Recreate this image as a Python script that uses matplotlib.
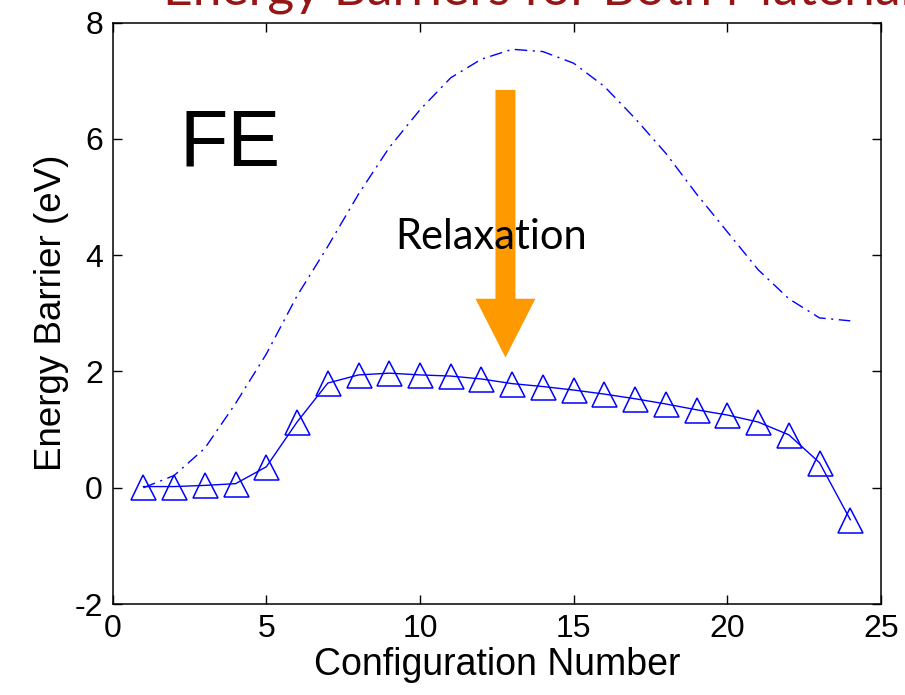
import matplotlib
matplotlib.use('Agg')
import matplotlib.pyplot as plt
from matplotlib.patches import FancyArrow

# Configuration numbers along the path
config = list(range(1, 25))

# Relaxed path (triangles, solid line)
relaxed = [0.02, 0.02, 0.04, 0.07, 0.36, 1.13, 1.80, 1.94, 1.97, 1.94, 1.92, 1.87,
           1.79, 1.74, 1.68, 1.61, 1.53, 1.44, 1.34, 1.25, 1.13, 0.91, 0.43, -0.55]

# Unrelaxed path (dash-dot line)
unrelaxed = [0.00, 0.21, 0.68, 1.45, 2.30, 3.30, 4.15, 5.05, 5.85, 6.50, 7.05, 7.37,
             7.54, 7.50, 7.30, 6.90, 6.35, 5.75, 5.05, 4.40, 3.75, 3.25, 2.92, 2.87]

xticks = [0, 5, 10, 15, 20, 25]
yticks = [-2, 0, 2, 4, 6, 8]

plt.rcParams['font.family'] = ['Liberation Sans', 'DejaVu Sans']
plt.rcParams['axes.unicode_minus'] = False

fig = plt.figure(figsize=(9.05, 6.95), dpi=100)
ax = fig.add_axes([0.1245, 0.1309, 0.849, 0.8367])

ax.plot(config, unrelaxed, color='#0000ff', lw=1.0, linestyle=(0, (9, 4, 1.5, 4)))
ax.plot(config, relaxed, color='#0000ff', lw=1.0, marker='^', ms=18,
        mfc='none', mec='#0000ff', mew=1.1)

ax.set_xlim(0, 25)
ax.set_ylim(-2, 8)
ax.set_xticks(xticks)
ax.set_yticks(yticks)
ax.tick_params(direction='in', length=6.5, width=1, top=True, right=True,
               labelsize=23, pad=7, colors='black')
for s in ax.spines.values():
    s.set_linewidth(1.1)

ax.set_xlabel('Configuration Number', fontsize=27, labelpad=2)
ax.set_ylabel('Energy Barrier (eV)', fontsize=26.5, labelpad=4)

# orange relaxation arrow
arr = FancyArrow(12.78, 6.84, 0, -4.6, width=0.65, head_width=1.95,
                 head_length=1.01, length_includes_head=True,
                 color='#ff9900', lw=0, zorder=3)
ax.add_patch(arr)

ax.text(9.2, 4.1, 'Relaxation', fontsize=30, family=['Lato', 'DejaVu Sans'],
        va='baseline', zorder=4)
fig.text(179 / 905, 1 - 165 / 695, 'FE', fontsize=57, va='baseline')

# slide title, cut off at the top edge as in the original
fig.text(163 / 905, 1 - 5 / 695, 'Energy Barriers for Both Materials', fontsize=37,
         color='#961616', family=['Lato', 'DejaVu Sans'], va='baseline')

fig.savefig('out.png', dpi=100)
